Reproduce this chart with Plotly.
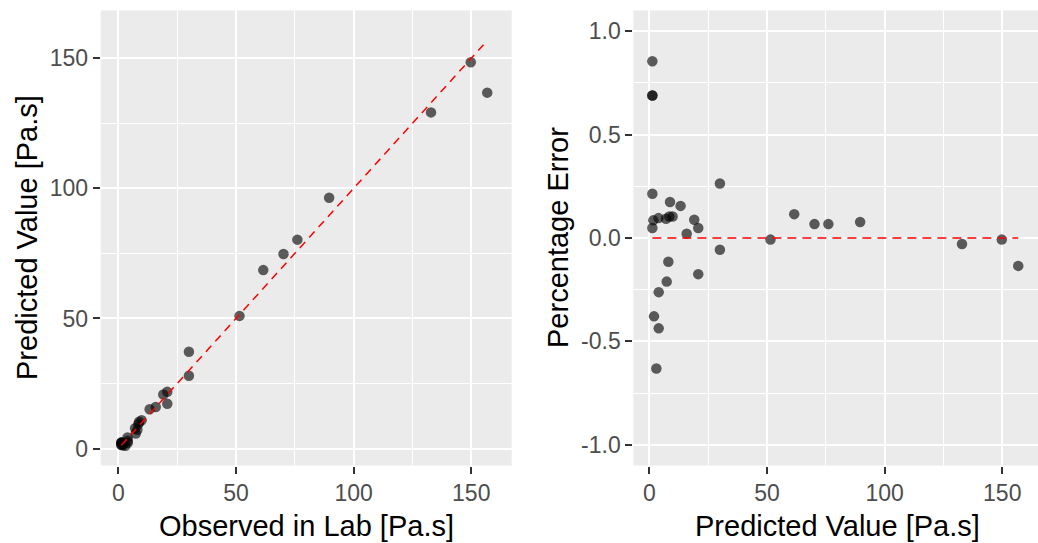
import plotly.graph_objects as go

# ---- data ----
observed = [1.3, 1.3, 1.3, 1.3, 1.3, 1.7, 2.0, 3.0, 3.9, 4.0, 4.0, 7.1, 7.4, 8.1, 8.5, 8.8,
            9.9, 13.3, 15.9, 19.1, 20.8, 20.8, 30.0, 30.0, 51.5, 61.6, 70.2, 76.1, 89.6,
            132.9, 149.8, 156.8]
predicted = [2.4, 2.2, 2.2, 1.6, 1.4, 1.85, 1.25, 1.1, 4.3, 3.0, 2.25, 7.8, 5.8, 7.2, 9.4, 10.3,
             10.9, 15.1, 16.0, 20.8, 21.8, 17.2, 37.2, 28.0, 51.0, 68.6, 74.8, 80.3, 96.4,
             129.2, 148.5, 136.8]
pct_error = [0.854, 0.689, 0.689, 0.214, 0.048, 0.085, -0.379, -0.631, 0.096, -0.262, -0.437,
             0.093, -0.211, -0.115, 0.104, 0.174, 0.104, 0.155, 0.020, 0.088, 0.048, -0.175,
             0.263, -0.057, -0.008, 0.115, 0.067, 0.067, 0.077, -0.029, -0.008, -0.135]

left_ticks = [0, 50, 100, 150]
right_x_ticks = [0, 50, 100, 150]
right_y_ticks = [-1.0, -0.5, 0.0, 0.5, 1.0]
right_y_labels = ["-1.0", "-0.5", "0.0", "0.5", "1.0"]

# ---- styling ----
W, H = 1038, 543
FONT = "Liberation Sans, Arial, sans-serif"
PANEL_BG = "#EBEBEB"
TICK_COLOR = "#4D4D4D"
POINT_COLOR = "rgba(0,0,0,0.62)"


def px_x(p):
    return p / W


def px_y(p):
    return 1 - p / H


def mids(t):
    return [(a + b) / 2 for a, b in zip(t[:-1], t[1:])]


fig = go.Figure()

# left panel
fig.add_trace(go.Scatter(x=observed, y=predicted, mode="markers",
                         marker=dict(size=10.5, color=POINT_COLOR, line=dict(width=0)),
                         xaxis="x", yaxis="y", showlegend=False, hoverinfo="skip"))
lo, hi = min(observed), max(observed)
fig.add_trace(go.Scatter(x=[lo, hi], y=[lo, hi], mode="lines",
                         line=dict(color="#FF0000", width=1.5, dash="8px,6px"),
                         xaxis="x", yaxis="y", showlegend=False, hoverinfo="skip"))

# right panel
fig.add_trace(go.Scatter(x=observed, y=pct_error, mode="markers",
                         marker=dict(size=10.5, color=POINT_COLOR, line=dict(width=0)),
                         xaxis="x2", yaxis="y2", showlegend=False, hoverinfo="skip"))
fig.add_trace(go.Scatter(x=[lo, hi], y=[0, 0], mode="lines",
                         line=dict(color="#FF0000", width=1.6, dash="9px,6px"),
                         xaxis="x2", yaxis="y2", showlegend=False, hoverinfo="skip"))

ydom = [px_y(465.5), px_y(10.4)]

common = dict(
    showgrid=True, gridcolor="white", gridwidth=2,
    zeroline=False, showline=False,
    ticks="outside", ticklen=7, tickwidth=1.6, tickcolor="#333333",
    tickfont=dict(family=FONT, size=23, color=TICK_COLOR),
    tickmode="array",
)

fig.update_layout(
    width=W, height=H,
    margin=dict(l=0, r=0, t=0, b=0),
    paper_bgcolor="white",
    plot_bgcolor=PANEL_BG,
    font=dict(family=FONT),
    xaxis=dict(common, domain=[px_x(100.7), px_x(511.7)], range=[-7.5, 167.2],
               tickvals=left_ticks, ticktext=[str(v) for v in left_ticks],
               minor=dict(tickvals=mids(left_ticks), showgrid=True, gridcolor="white",
                          gridwidth=1, ticks=""),
               anchor="y"),
    yaxis=dict(common, domain=ydom, range=[-6.5, 168.4],
               tickvals=left_ticks, ticktext=[str(v) for v in left_ticks],
               minor=dict(tickvals=mids(left_ticks), showgrid=True, gridcolor="white",
                          gridwidth=1, ticks=""),
               anchor="x"),
    xaxis2=dict(common, domain=[px_x(633.3), 1.0], range=[-6.8, 165.2],
                tickvals=right_x_ticks, ticktext=[str(v) for v in right_x_ticks],
                minor=dict(tickvals=mids(right_x_ticks), showgrid=True, gridcolor="white",
                           gridwidth=1, ticks=""),
                anchor="y2"),
    yaxis2=dict(common, domain=ydom, range=[-1.1, 1.1],
                tickvals=right_y_ticks, ticktext=right_y_labels,
                minor=dict(tickvals=mids(right_y_ticks), showgrid=True, gridcolor="white",
                           gridwidth=1, ticks=""),
                anchor="x2"),
)

title_font = dict(family=FONT, size=29, color="black")
annotations = [
    dict(text="Observed in Lab [Pa.s]", x=px_x(306), y=px_y(526), xref="paper", yref="paper",
         xanchor="center", yanchor="middle", showarrow=False, font=title_font),
    dict(text="Predicted Value [Pa.s]", x=px_x(837), y=px_y(526), xref="paper", yref="paper",
         xanchor="center", yanchor="middle", showarrow=False, font=title_font),
    dict(text="Predicted Value [Pa.s]", x=px_x(27), y=px_y(238), xref="paper", yref="paper",
         xanchor="center", yanchor="middle", showarrow=False, textangle=-90, font=title_font),
    dict(text="Percentage Error", x=px_x(558), y=px_y(238), xref="paper", yref="paper",
         xanchor="center", yanchor="middle", showarrow=False, textangle=-90, font=title_font),
]
fig.update_layout(annotations=annotations)

fig.write_html("out.html")
